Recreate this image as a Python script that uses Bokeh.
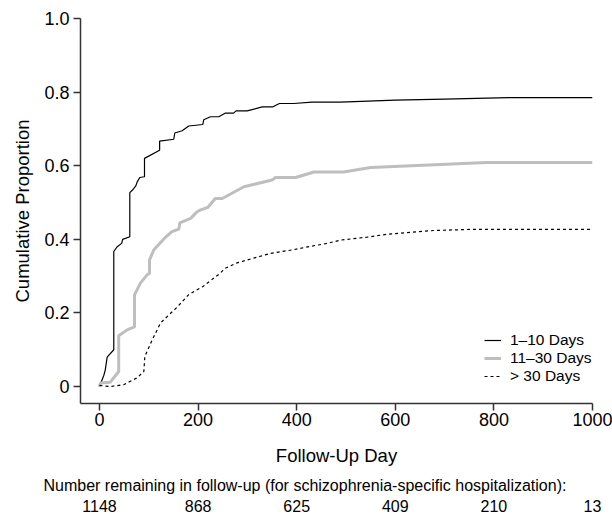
from bokeh.plotting import figure
from bokeh.models import Legend, LegendItem, Range1d, LinearAxis, Title
from bokeh.embed import file_html
from bokeh.resources import INLINE

# ---- data ----
bk_day = [0, 1.4, 4, 8.7, 11.6, 15.6, 29, 29, 36, 45, 47, 61.5, 61.5, 67, 73.6, 76.5, 81.7, 91.3, 91.3,
          122, 122, 150.7, 152.7, 167.7, 181, 209.5, 211.6, 225, 242, 255.6, 272, 277, 299.6, 330, 352,
          365, 394, 431, 489, 600, 700, 830, 1000]
bk_prop = [0, 0.005, 0.014, 0.030, 0.044, 0.080, 0.100, 0.367, 0.380, 0.389, 0.400, 0.407, 0.527, 0.534,
           0.545, 0.556, 0.568, 0.570, 0.620, 0.642, 0.667, 0.672, 0.689, 0.695, 0.708, 0.712, 0.725,
           0.733, 0.733, 0.743, 0.743, 0.749, 0.749, 0.760, 0.760, 0.769, 0.769, 0.773, 0.773, 0.778,
           0.781, 0.785, 0.785]

gr_day = [0, 2, 22, 39, 39, 56, 71, 71, 83, 97, 101.5, 101.5, 110, 132, 147, 161, 163, 185, 198, 205, 220,
          235, 249, 293, 350, 357, 398, 435, 495, 550, 786, 1000]
gr_prop = [0, 0.010, 0.012, 0.041, 0.138, 0.154, 0.162, 0.249, 0.281, 0.304, 0.308, 0.344, 0.371, 0.403,
           0.421, 0.428, 0.445, 0.457, 0.475, 0.480, 0.487, 0.511, 0.511, 0.543, 0.561, 0.568, 0.568,
           0.583, 0.583, 0.595, 0.609, 0.609]

dt_day = [0, 22, 49, 76.5, 90, 92, 107, 124, 141, 157, 181, 210, 242, 256, 279, 313, 347, 394, 428, 462,
          489, 543, 584, 678, 753, 1000]
dt_prop = [0.003, 0.000, 0.005, 0.024, 0.041, 0.082, 0.127, 0.173, 0.195, 0.215, 0.250, 0.272, 0.305,
           0.322, 0.336, 0.349, 0.362, 0.372, 0.381, 0.389, 0.398, 0.406, 0.414, 0.424, 0.427, 0.427]

series_labels = ["1\u201310 Days", "11\u201330 Days", "> 30 Days"]

x_ticks = [0, 200, 400, 600, 800, 1000]
y_ticks = [0, 0.2, 0.4, 0.6, 0.8, 1.0]
y_tick_labels = ["0", "0.2", "0.4", "0.6", "0.8", "1.0"]

remain_days = [0, 200, 400, 600, 800, 1000]
remain_n = ["1148", "868", "625", "409", "210", "13"]
remain_title = "Number remaining in follow-up (for schizophrenia-specific hospitalization):"

FONT = "Liberation Sans"

p = figure(width=612, height=514, output_backend="svg", toolbar_location=None,
           x_range=Range1d(-38.5, 1000), y_range=Range1d(-0.046, 1.0),
           min_border_left=80, min_border_right=20, min_border_top=18, min_border_bottom=110)
p.outline_line_color = None
p.grid.visible = False
p.background_fill_color = "white"

r1 = p.line(bk_day, bk_prop, line_color="black", line_width=1.2)
r2 = p.line(gr_day, gr_prop, line_color="#bebebe", line_width=3)
r3 = p.line(dt_day, dt_prop, line_color="black", line_width=1.2, line_dash="3 3")

xax = p.xaxis[0]
yax = p.yaxis[0]
for ax in (xax, yax):
    ax.axis_line_color = "#333333"
    ax.axis_line_width = 1.5
    ax.major_tick_line_color = "#333333"
    ax.major_tick_line_width = 1.5
    ax.major_tick_out = 7
    ax.major_tick_in = 0
    ax.minor_tick_line_color = None
    ax.major_label_text_font = FONT
    ax.major_label_text_font_size = "18px"
    ax.major_label_text_color = "black"
    ax.axis_label_text_font = FONT
    ax.axis_label_text_font_size = "18.5px"
    ax.axis_label_text_font_style = "normal"
    ax.axis_label_text_color = "black"

xax.ticker = x_ticks
yax.ticker = y_ticks
yax.major_label_overrides = {t: s for t, s in zip(y_ticks, y_tick_labels)}
xax.axis_label = "Follow-Up Day"
yax.axis_label = "Cumulative Proportion"
xax.major_label_standoff = 2
yax.major_label_standoff = 4
xax.axis_label_standoff = 16
yax.axis_label_standoff = 8

legend = Legend(items=[LegendItem(label=series_labels[0], renderers=[r1]),
                       LegendItem(label=series_labels[1], renderers=[r2]),
                       LegendItem(label=series_labels[2], renderers=[r3])],
                location=(404, 18), padding=0, margin=0, spacing=0,
                glyph_width=17, glyph_height=18, label_height=18, label_standoff=9,
                border_line_color=None, background_fill_alpha=0,
                label_text_font=FONT, label_text_font_size="15.5px", label_text_color="black")
p.add_layout(legend)

# note line (between the x axis and the counts)
note = Title(text=remain_title, align="left", offset=-37, standoff=12,
             text_font=FONT, text_font_size="16px", text_font_style="normal", text_color="black")
p.add_layout(note, "below")

# counts remaining, placed at the x-axis tick positions
count_axis = LinearAxis(ticker=remain_days,
                        major_label_overrides={d: n for d, n in zip(remain_days, remain_n)},
                        axis_label=None,
                        axis_line_color=None, major_tick_line_color=None, minor_tick_line_color=None,
                        major_tick_out=0, major_tick_in=0, major_label_standoff=0,
                        major_label_text_font=FONT, major_label_text_font_size="16px",
                        major_label_text_color="black")
p.add_layout(count_axis, "below")

open("out.html", "w").write(file_html(p, INLINE))
